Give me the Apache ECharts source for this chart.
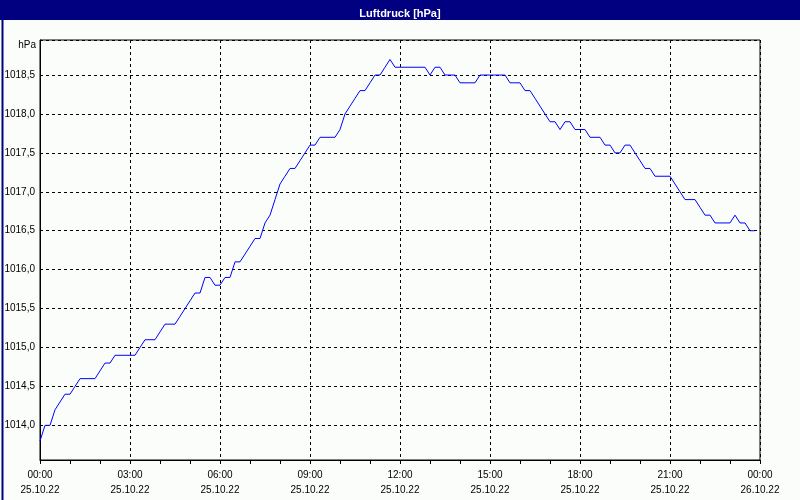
<!DOCTYPE html>
<html>
<head>
<meta charset="utf-8">
<script src="https://cdn.jsdelivr.net/npm/echarts@6/dist/echarts.min.js"></script>
<style>
html,body{margin:0;padding:0;background:#fbfdfb;}
#chart{width:800px;height:500px;}
</style>
</head>
<body>
<div id="chart"></div>
<script>
// Luftdruck values, one reading every 10 minutes from 25.10.22 00:00 to 23:50
const stepMinutes = 10;
const pressure = [
  1013.8, 1014.0, 1014.0, 1014.2, 1014.3, 1014.4,
  1014.4, 1014.5, 1014.6, 1014.6, 1014.6, 1014.6,
  1014.7, 1014.8, 1014.8, 1014.9, 1014.9, 1014.9,
  1014.9, 1014.9, 1015.0, 1015.1, 1015.1, 1015.1,
  1015.2, 1015.3, 1015.3, 1015.3, 1015.4, 1015.5,
  1015.6, 1015.7, 1015.7, 1015.9, 1015.9, 1015.8,
  1015.8, 1015.9, 1015.9, 1016.1, 1016.1, 1016.2,
  1016.3, 1016.4, 1016.4, 1016.6, 1016.7, 1016.9,
  1017.1, 1017.2, 1017.3, 1017.3, 1017.4, 1017.5,
  1017.6, 1017.6, 1017.7, 1017.7, 1017.7, 1017.7,
  1017.8, 1018.0, 1018.1, 1018.2, 1018.3, 1018.3,
  1018.4, 1018.5, 1018.5, 1018.6, 1018.7, 1018.6,
  1018.6, 1018.6, 1018.6, 1018.6, 1018.6, 1018.6,
  1018.5, 1018.6, 1018.6, 1018.5, 1018.5, 1018.5,
  1018.4, 1018.4, 1018.4, 1018.4, 1018.5, 1018.5,
  1018.5, 1018.5, 1018.5, 1018.5, 1018.4, 1018.4,
  1018.4, 1018.3, 1018.3, 1018.2, 1018.1, 1018.0,
  1017.9, 1017.9, 1017.8, 1017.9, 1017.9, 1017.8,
  1017.8, 1017.8, 1017.7, 1017.7, 1017.7, 1017.6,
  1017.6, 1017.5, 1017.5, 1017.6, 1017.6, 1017.5,
  1017.4, 1017.3, 1017.3, 1017.2, 1017.2, 1017.2,
  1017.2, 1017.1, 1017.0, 1016.9, 1016.9, 1016.9,
  1016.8, 1016.7, 1016.7, 1016.6, 1016.6, 1016.6,
  1016.6, 1016.7, 1016.6, 1016.6, 1016.5, 1016.5
];
const tickHours = ['00:00','03:00','06:00','09:00','12:00','15:00','18:00','21:00','00:00'];
const tickDates = ['25.10.22','25.10.22','25.10.22','25.10.22','25.10.22','25.10.22','25.10.22','25.10.22','26.10.22'];
const titleText = 'Luftdruck [hPa]';
const unitText = 'hPa';

const seriesData = pressure.map((v, i) => [i * stepMinutes, v]);

const chart = echarts.init(document.getElementById('chart'), null, {renderer: 'canvas'});
const FONT = 'Liberation Sans';
chart.setOption({
  backgroundColor: '#fbfdfb',
  animation: false,
  textStyle: {fontFamily: FONT},
  graphic: [
    {type: 'rect', left: 0, top: 0, shape: {width: 800, height: 20}, style: {fill: '#000080'}, z: 0},
    {type: 'rect', left: 0, top: 0, shape: {x: 0.5, y: 0.5, width: 799, height: 499}, style: {fill: 'none', stroke: '#000080', lineWidth: 2}, z: 0}
  ],
  title: {
    text: titleText,
    left: 'center',
    top: 3,
    textStyle: {color: '#ffffff', fontSize: 11, fontWeight: 'bold', fontFamily: FONT}
  },
  grid: {left: 40, right: 40, top: 40, bottom: 40, show: true, borderColor: '#000', borderWidth: 1, backgroundColor: 'transparent'},
  xAxis: {
    type: 'value',
    min: 0,
    max: 1440,
    interval: 180,
    axisLine: {lineStyle: {color: '#000', width: 1}},
    axisTick: {show: true, length: 4, lineStyle: {color: '#000'}},
    minorTick: {show: true, splitNumber: 3, length: 4, lineStyle: {color: '#000'}},
    splitLine: {show: true, lineStyle: {color: '#000', type: [3, 3], width: 1}},
    axisLabel: {
      color: '#000', fontSize: 10, fontFamily: FONT, margin: 8, lineHeight: 15,
      formatter: function (v) {
        const k = Math.round(v / 180);
        return tickHours[k] + '\n' + tickDates[k];
      }
    }
  },
  yAxis: {
    type: 'value',
    min: 1013.555,
    max: 1018.95,
    splitNumber: 10,
    minInterval: 0.5,
    maxInterval: 0.5,
    name: unitText,
    nameLocation: 'end',
    nameGap: -5,
    nameTextStyle: {color: '#000', fontSize: 10, fontFamily: FONT, align: 'right', verticalAlign: 'middle', padding: [0, 4, 0, 0]},
    axisLine: {show: true, lineStyle: {color: '#000', width: 1}},
    axisTick: {show: false},
    splitLine: {show: true, lineStyle: {color: '#000', type: [3, 3], width: 1}},
    axisLabel: {
      color: '#000', fontSize: 10, fontFamily: FONT, margin: 5,
      showMinLabel: false, showMaxLabel: false,
      formatter: function (v) { return v.toFixed(1).replace('.', ','); }
    }
  },
  series: [{
    type: 'line',
    data: seriesData,
    showSymbol: false,
    smooth: false,
    lineStyle: {color: '#0000ff', width: 1},
    itemStyle: {color: '#0000ff'}
  }]
});
</script>
</body>
</html>
